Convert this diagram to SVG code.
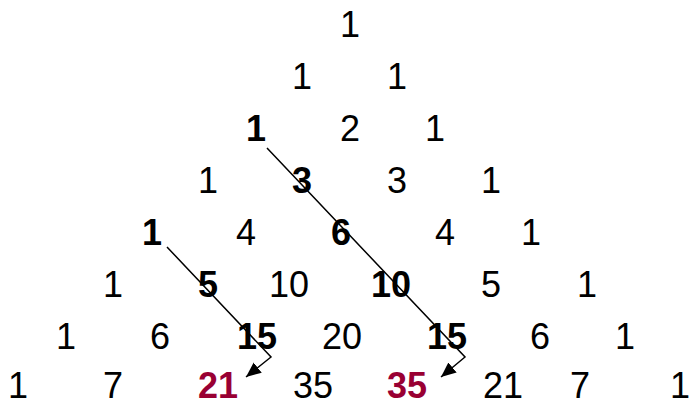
<svg xmlns="http://www.w3.org/2000/svg" width="689" height="403" viewBox="0 0 689 403">
<style>
text{font-family:"Liberation Sans",Arial,sans-serif;font-size:36px;fill:#000;text-anchor:middle}
.b{font-weight:bold}
.r{font-weight:bold;fill:#990033}
.c{fill:none;stroke:#000;stroke-width:1.5}
</style>
<defs>
<marker id="ah" markerUnits="userSpaceOnUse" markerWidth="16" markerHeight="14" refX="15" refY="6.5" orient="auto">
<path d="M0,0 L15,6.5 L0,13 z" fill="#000"/>
</marker>
</defs>
<rect width="689" height="403" fill="#fff"/>
<g id="row0"><g id="n0_0"><text x="350" y="37">1</text></g></g>
<g id="row1"><g id="n1_0"><text x="302" y="89">1</text></g><g id="n1_1"><text x="397" y="89">1</text></g></g>
<g id="row2"><g id="n2_0"><text class="b" x="256" y="141">1</text></g><g id="n2_1"><text x="350" y="141">2</text></g><g id="n2_2"><text x="435" y="141">1</text></g></g>
<g id="row3"><g id="n3_0"><text x="208" y="193">1</text></g><g id="n3_1"><text class="b" x="302" y="193">3</text></g><g id="n3_2"><text x="397" y="193">3</text></g><g id="n3_3"><text x="491" y="193">1</text></g></g>
<g id="row4"><g id="n4_0"><text class="b" x="152" y="245">1</text></g><g id="n4_1"><text x="246" y="245">4</text></g><g id="n4_2"><text class="b" x="341" y="245">6</text></g><g id="n4_3"><text x="445" y="245">4</text></g><g id="n4_4"><text x="531" y="245">1</text></g></g>
<g id="row5"><g id="n5_0"><text x="113" y="297">1</text></g><g id="n5_1"><text class="b" x="208" y="297">5</text></g><g id="n5_2"><text x="289" y="297">10</text></g><g id="n5_3"><text class="b" x="391" y="297">10</text></g><g id="n5_4"><text x="491" y="297">5</text></g><g id="n5_5"><text x="587" y="297">1</text></g></g>
<g id="row6"><g id="n6_0"><text x="66" y="349">1</text></g><g id="n6_1"><text x="160" y="349">6</text></g><g id="n6_2"><text class="b" x="257" y="349">15</text></g><g id="n6_3"><text x="342" y="349">20</text></g><g id="n6_4"><text class="b" x="447" y="349">15</text></g><g id="n6_5"><text x="540" y="349">6</text></g><g id="n6_6"><text x="625" y="349">1</text></g></g>
<g id="row7"><g id="n7_0"><text x="18" y="398">1</text></g><g id="n7_1"><text x="113" y="398">7</text></g><g id="n7_2"><text class="r" x="218" y="398">21</text></g><g id="n7_3"><text x="313" y="398">35</text></g><g id="n7_4"><text class="r" x="407" y="398">35</text></g><g id="n7_5"><text x="503" y="398">21</text></g><g id="n7_6"><text x="580" y="398">7</text></g><g id="n7_7"><text x="680" y="398">1</text></g></g>
<g id="connectors">
<polyline class="c" points="267,148 465,357 441,377" marker-end="url(#ah)"/>
<polyline class="c" points="167,247 271,357 246,377" marker-end="url(#ah)"/>
</g>
</svg>
